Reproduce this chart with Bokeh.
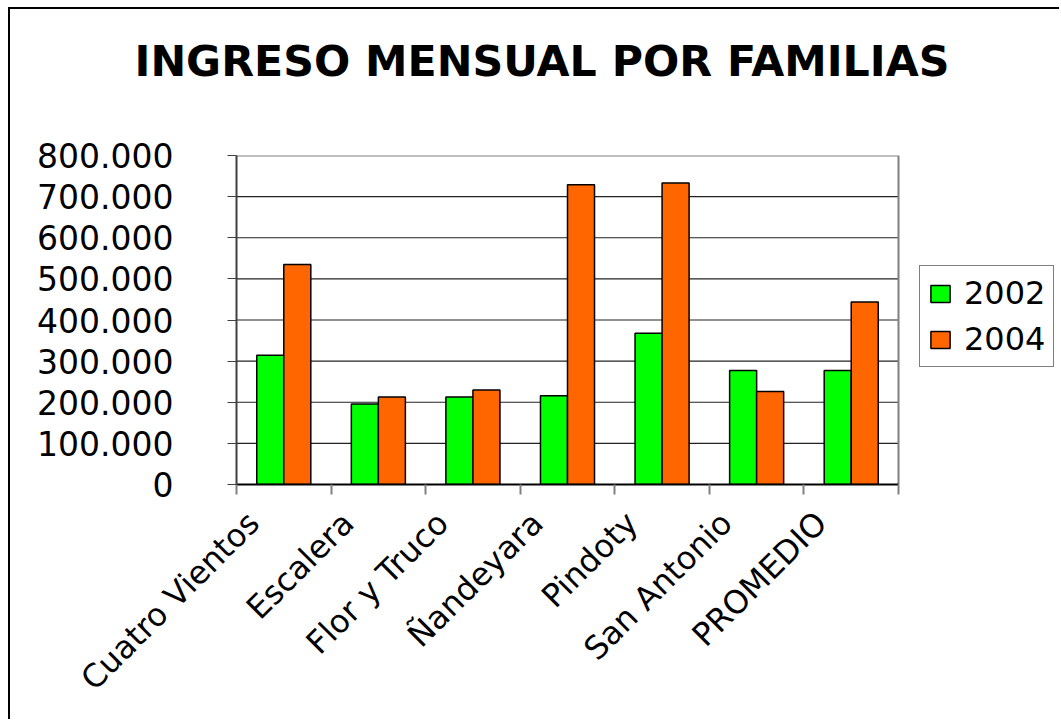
from bokeh.plotting import figure
from bokeh.models import (Range1d, FixedTicker, Legend, LegendItem, Title, ColumnDataSource,
                          LinearAxis)
from bokeh.embed import file_html
from bokeh.resources import INLINE
import numpy as np

# ---- data ----
categories = ["Cuatro Vientos", "Escalera", "Flor y Truco", "Ñandeyara",
              "Pindoty", "San Antonio", "PROMEDIO"]
series_names = ["2002", "2004"]
values_2002 = [314000, 196000, 213000, 216000, 368000, 277000, 277000]
values_2004 = [535000, 213000, 230000, 729000, 733000, 226000, 444000]
y_ticks = [0, 100000, 200000, 300000, 400000, 500000, 600000, 700000, 800000]
y_tick_labels = ["0", "100.000", "200.000", "300.000", "400.000",
                 "500.000", "600.000", "700.000", "800.000"]
title_text = "INGRESO MENSUAL POR FAMILIAS"

GREEN = "#00FF00"
ORANGE = "#FF6600"
FONT = "DejaVu Sans"

n = len(categories)
centers = np.arange(n) + 0.5
bar_w = 1 / 3.5

# layout (pixels): plot area 236..898 inside a frame that runs to the right edge
FRAME_L, PLOT_R, CANVAS_R = 236, 898, 1061
x_end = n * (CANVAS_R - FRAME_L) / (PLOT_R - FRAME_L)
y_max = y_ticks[-1]

p = figure(width=1051, height=712, output_backend="svg", toolbar_location=None,
           x_range=Range1d(0, x_end), y_range=Range1d(0, y_max),
           min_border_left=226, min_border_right=0,
           min_border_top=146, min_border_bottom=237,
           styles={"border-left": "2px solid black", "border-top": "2px solid black",
                   "margin-left": "8px", "margin-top": "7px"})

# grid lines and plot-area outline (limited to the category span)
inner = y_ticks[1:-1]
p.segment(x0=[0] * len(inner), x1=[n] * len(inner), y0=inner, y1=inner,
          line_color="#222222", line_width=1.2)
p.segment(x0=[0, n], x1=[n, n], y0=[y_max, 0], y1=[y_max, y_max],
          line_color="#808080", line_width=2)

src1 = ColumnDataSource(dict(x=centers - bar_w / 2, top=values_2002))
src2 = ColumnDataSource(dict(x=centers + bar_w / 2, top=values_2004))
r1 = p.vbar(x="x", top="top", width=bar_w, source=src1, fill_color=GREEN,
            line_color="black", line_width=1.5)
r2 = p.vbar(x="x", top="top", width=bar_w, source=src2, fill_color=ORANGE,
            line_color="black", line_width=1.5)

# invisible spacer between plot area and title (one hidden tick so it takes space)
spacer = LinearAxis(ticker=FixedTicker(ticks=[0]), major_tick_out=46, major_tick_in=0,
                    minor_tick_out=0, minor_tick_in=0, axis_line_color=None,
                    major_tick_line_color=None, minor_tick_line_color=None,
                    major_label_standoff=0, major_label_overrides={0: ""},
                    major_label_text_font_size="1px")
p.add_layout(spacer, "above")

# title
p.title = Title(text=title_text, text_font=FONT, text_font_size="42.7px",
                text_font_style="bold", align="left", offset=-102, standoff=48,
                text_color="black")

# y axis
p.yaxis.ticker = FixedTicker(ticks=y_ticks)
p.yaxis.major_label_overrides = {t: l for t, l in zip(y_ticks, y_tick_labels)}
p.yaxis.major_label_text_font = FONT
p.yaxis.major_label_text_font_size = "33px"
p.yaxis.major_label_text_color = "black"
p.yaxis.major_label_standoff = 54
p.yaxis.major_tick_out = 9
p.yaxis.major_tick_in = 0
p.yaxis.minor_tick_out = 0
p.yaxis.minor_tick_in = 0
p.yaxis.axis_line_color = "#404040"
p.yaxis.axis_line_width = 2
p.yaxis.major_tick_line_color = "#404040"

# x axis: labels at shifted centers, boundary ticks as minor ticks
label_pos = list(centers - 0.32)
xaxis = p.below[0]
xaxis.ticker = FixedTicker(ticks=label_pos, minor_ticks=list(range(n + 1)))
xaxis.bounds = (0, n)
xaxis.major_label_overrides = {float(x): c for x, c in zip(label_pos, categories)}
xaxis.major_label_orientation = np.pi / 4
xaxis.major_label_text_font = FONT
xaxis.major_label_text_font_size = "32px"
xaxis.major_label_text_color = "black"
xaxis.major_label_standoff = 23
xaxis.major_tick_out = 0
xaxis.major_tick_in = 0
xaxis.minor_tick_out = 10
xaxis.minor_tick_in = 0
xaxis.minor_tick_line_color = "#808080"
xaxis.minor_tick_line_width = 2
xaxis.axis_line_color = "black"
xaxis.axis_line_width = 2

p.xgrid.grid_line_color = None
p.ygrid.grid_line_color = None

p.outline_line_color = None
p.background_fill_color = "white"
p.border_fill_color = "white"

legend = Legend(items=[LegendItem(label=series_names[0], renderers=[r1]),
                       LegendItem(label=series_names[1], renderers=[r2])],
                location=(919 - FRAME_L, 484 - 367), orientation="vertical",
                label_text_font=FONT, label_text_font_size="32px",
                label_text_color="black",
                glyph_width=24, glyph_height=21, label_standoff=12,
                padding=8, spacing=8, margin=0,
                border_line_color="black", border_line_width=1.5,
                background_fill_color="white", background_fill_alpha=1)
p.add_layout(legend)

open("out.html", "w").write(file_html(p, INLINE))
